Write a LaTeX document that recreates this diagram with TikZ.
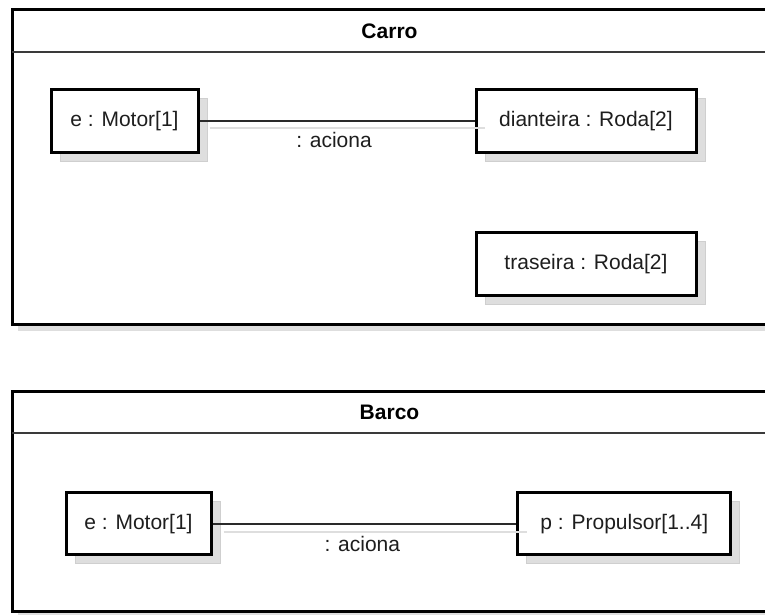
\documentclass[tikz,border=0pt]{standalone}
\usepackage{fontspec}
\setmainfont{Liberation Sans}
\usetikzlibrary{shadows}
\definecolor{ink}{HTML}{1E1E1E}
\definecolor{wire}{HTML}{2A2A2A}
\definecolor{shade}{HTML}{DEDEDE}
\definecolor{shadeedge}{HTML}{CFCFCF}
\definecolor{rule}{HTML}{3A3A3A}

\tikzset{
  frame/.style={draw=black, line width=3pt, fill=white, inner sep=0pt, outer sep=0pt,
    general shadow={fill=shade, shadow xshift=6pt, shadow yshift=-7pt}},
  frametitle/.style={font=\fontsize{21}{25}\selectfont\bfseries, text=black, inner sep=0pt},
  headline/.style={draw=rule, line width=1.2pt},
  part/.style={draw=black, line width=3pt, fill=white, inner sep=0pt,
    text=ink, font=\fontsize{21}{25}\selectfont,
    general shadow={fill=shade, draw=shadeedge, line width=1pt, shadow xshift=9pt, shadow yshift=-9pt}},
  wire/.style={draw=wire, line width=1.5pt},
  wireshade/.style={draw=shade, line width=2pt},
  rolename/.style={font=\fontsize{21}{25}\selectfont, text=ink, inner sep=0pt},
}

\begin{document}
\begin{tikzpicture}[x=1pt, y=-1pt]
  \useasboundingbox (0,0) rectangle (765,615);
  \clip (0,0) rectangle (765,615);

  % Carro composite structure
  \node[frame, minimum width=755pt, minimum height=314pt] (carro) at (389.5,167) {};
  \draw[headline] ([yshift=-42pt]carro.north west) -- ([yshift=-42pt]carro.north east);
  \node[frametitle] (carrotitle) at ([yshift=-21pt]carro.north) {Carro};

  \node[part, minimum width=147pt, minimum height=63pt] (motorA) at (124.5,121) {e : Motor[1]};
  \node[part, minimum width=220pt, minimum height=63pt] (dianteira) at (586,121) {dianteira : Roda[2]};
  \node[part, minimum width=220pt, minimum height=63pt] (traseira) at (586,263.7) {traseira : Roda[2]};

  \draw[wireshade] ([shift={(10pt,-7pt)}]motorA.east) -- ([shift={(10pt,-7pt)}]dianteira.west);
  \draw[wire] (motorA.east) -- node[rolename, midway, yshift=-19pt, xshift=-3pt] (acionaA) {: aciona} (dianteira.west);

  % Barco composite structure
  \node[frame, minimum width=755pt, minimum height=220pt] (barco) at (389.5,501) {};
  \draw[headline] ([yshift=-42pt]barco.north west) -- ([yshift=-42pt]barco.north east);
  \node[frametitle] (barcotitle) at ([yshift=-21pt]barco.north) {Barco};

  \node[part, minimum width=145pt, minimum height=62.3pt] (motorB) at (138.5,523.8) {e : Motor[1]};
  \node[part, minimum width=213.3pt, minimum height=62.3pt] (propulsor) at (624.3,523.8) {p : Propulsor[1..4]};

  \draw[wireshade] ([shift={(11pt,-8pt)}]motorB.east) -- ([shift={(11pt,-8pt)}]propulsor.west);
  \draw[wire] (motorB.east) -- node[rolename, midway, yshift=-20pt, xshift=-2pt] (acionaB) {: aciona} (propulsor.west);
\end{tikzpicture}
\end{document}
